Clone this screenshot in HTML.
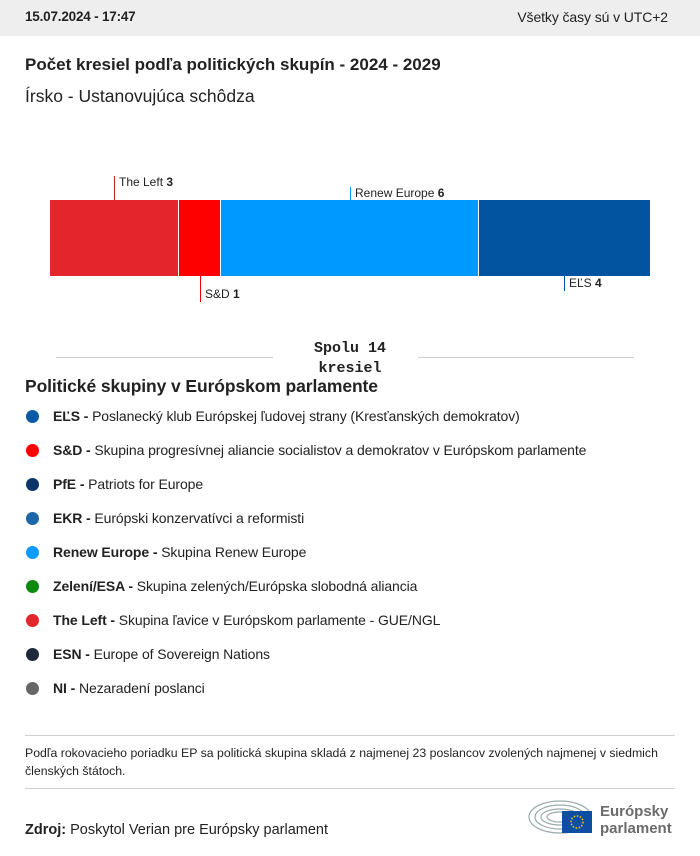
<!DOCTYPE html>
<html><head><meta charset="utf-8"><style>
body{margin:0;width:700px;height:856px;background:#fff;font-family:"Liberation Sans",sans-serif;color:#222;position:relative;overflow:hidden}
.a{position:absolute;white-space:nowrap}
.hdr{position:absolute;left:0;top:0;width:700px;height:36px;background:#eeeeee}
.seg{position:absolute;top:200px;height:76px}
.tick{position:absolute;width:1px}
.lbl{font-size:12px}
.dot{position:absolute;left:26px;width:13px;height:13px;border-radius:50%}
.li{position:absolute;left:53px;font-size:14px;white-space:nowrap;letter-spacing:-0.1px}
.hr{position:absolute;height:1px;background:#d0d0d0}
</style></head><body>
<div class="hdr"></div>
<div class="a" style="left:25px;top:9px;font-size:13.5px;font-weight:bold;letter-spacing:-0.2px">15.07.2024 - 17:47</div>
<div class="a" style="right:32px;top:9px;font-size:14px;letter-spacing:-0.1px">Všetky časy sú v UTC+2</div>
<div class="a" style="left:25px;top:55px;font-size:17px;font-weight:bold;letter-spacing:0">Počet kresiel podľa politických skupín - 2024 - 2029</div>
<div class="a" style="left:25px;top:86px;font-size:17.5px;letter-spacing:0">Írsko - Ustanovujúca schôdza</div>

<div class="seg" style="left:50px;width:128px;background:#e3262b"></div>
<div class="seg" style="left:179px;width:41px;background:#fe0000"></div>
<div class="seg" style="left:221px;width:257px;background:#0099fe"></div>
<div class="seg" style="left:479px;width:171px;background:#0253a0"></div>

<div class="tick" style="left:114px;top:176px;height:24px;background:#c9242a"></div>
<div class="a lbl" style="left:119px;top:175px">The Left <b>3</b></div>
<div class="tick" style="left:200px;top:276px;height:26px;background:#e00"></div>
<div class="a lbl" style="left:205px;top:287px">S&amp;D <b>1</b></div>
<div class="tick" style="left:350px;top:187px;height:13px;background:#0099fe"></div>
<div class="a lbl" style="left:355px;top:186px">Renew Europe <b>6</b></div>
<div class="tick" style="left:564px;top:276px;height:15px;background:#0253a0"></div>
<div class="a lbl" style="left:569px;top:276px">EĽS <b>4</b></div>

<div class="hr" style="left:56px;top:357px;width:217px"></div>
<div class="hr" style="left:418px;top:357px;width:216px"></div>
<div class="a" style="left:300px;top:339px;width:100px;text-align:center;font-family:'Liberation Mono',monospace;font-weight:bold;font-size:15px;line-height:20px;white-space:normal">Spolu 14<br>kresiel</div>

<div class="a" style="left:25px;top:376px;font-size:17.5px;font-weight:bold;letter-spacing:-0.1px">Politické skupiny v Európskom parlamente</div>

<div class="dot" style="top:410px;background:#0b5aa6"></div><div class="li" style="top:408px"><b>EĽS -</b> Poslanecký klub Európskej ľudovej strany (Kresťanských demokratov)</div>
<div class="dot" style="top:444px;background:#fe0000"></div><div class="li" style="top:442px"><b>S&amp;D -</b> Skupina progresívnej aliancie socialistov a demokratov v Európskom parlamente</div>
<div class="dot" style="top:478px;background:#0d3466"></div><div class="li" style="top:476px"><b>PfE -</b> Patriots for Europe</div>
<div class="dot" style="top:512px;background:#1b67a8"></div><div class="li" style="top:510px"><b>EKR -</b> Európski konzervatívci a reformisti</div>
<div class="dot" style="top:546px;background:#0d9bfe"></div><div class="li" style="top:544px"><b>Renew Europe -</b> Skupina Renew Europe</div>
<div class="dot" style="top:580px;background:#0e8a0e"></div><div class="li" style="top:578px"><b>Zelení/ESA -</b> Skupina zelených/Európska slobodná aliancia</div>
<div class="dot" style="top:614px;background:#e3262b"></div><div class="li" style="top:612px"><b>The Left -</b> Skupina ľavice v Európskom parlamente - GUE/NGL</div>
<div class="dot" style="top:648px;background:#1e2a3c"></div><div class="li" style="top:646px"><b>ESN -</b> Europe of Sovereign Nations</div>
<div class="dot" style="top:682px;background:#666"></div><div class="li" style="top:680px"><b>NI -</b> Nezaradení poslanci</div>

<div class="hr" style="left:25px;top:735px;width:650px"></div>
<div class="a" style="left:25px;top:744px;font-size:12.3px;line-height:18px;letter-spacing:0">Podľa rokovacieho poriadku EP sa politická skupina skladá z najmenej 23 poslancov zvolených najmenej v siedmich<br>členských štátoch.</div>
<div class="hr" style="left:25px;top:788px;width:650px"></div>
<div class="a" style="left:25px;top:822px;font-size:14.5px;letter-spacing:0"><b>Zdroj:</b> Poskytol Verian pre Európsky parlament</div>

<svg class="a" style="left:528px;top:797px" width="70" height="40">
<g fill="none" stroke="#9aa" stroke-width="1.2">
<ellipse cx="32" cy="20" rx="31" ry="16"/><ellipse cx="32" cy="20" rx="25" ry="12"/><ellipse cx="32" cy="20" rx="19" ry="8"/><ellipse cx="32" cy="20" rx="13" ry="5"/>
</g>
<rect x="34" y="14" width="30" height="22" fill="#0b4ea2"/>
<circle cx="49" cy="25" r="6" fill="none" stroke="#fc0" stroke-width="1.5" stroke-dasharray="1.5 1.6"/>
</svg>
<div class="a" style="left:600px;top:803px;font-size:15px;font-weight:bold;color:#6b6b6b;line-height:17px">Európsky<br>parlament</div>
</body></html>
